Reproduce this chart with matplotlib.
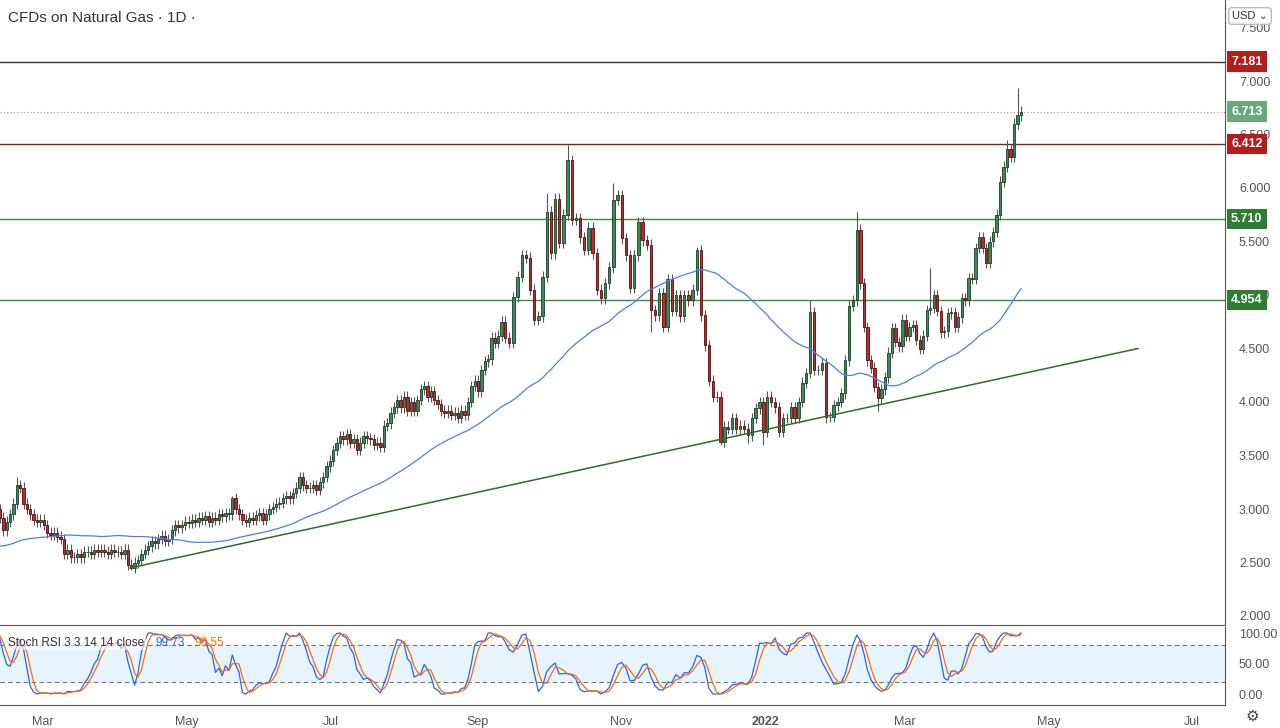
import numpy as np
import pandas as pd
import matplotlib
matplotlib.use("Agg")
from matplotlib import pyplot as plt
import matplotlib.dates as mdates

plt.rcParams['font.family'] = ['Liberation Sans', 'DejaVu Sans']

# closes before the visible window (only used for the moving average / stoch rsi)
pre_closes = [2.55, 2.60, 2.62, 2.58, 2.50, 2.45, 2.52, 2.60, 2.68, 2.70, 2.65, 2.58,
              2.62, 2.70, 2.75, 2.72, 2.55, 2.50, 2.45, 2.48, 2.55, 2.62, 2.70, 2.65,
              2.60, 2.55, 2.50, 2.58, 2.65, 2.78, 2.85, 2.90, 2.88, 2.95, 3.00]

closes = [2.92, 2.80, 2.88, 2.95, 3.05, 3.22, 3.20, 3.05, 3.00, 2.95,
          2.90, 2.88, 2.90, 2.85, 2.78, 2.76, 2.78, 2.74, 2.72, 2.58,
          2.62, 2.55, 2.55, 2.58, 2.55, 2.60, 2.60, 2.58, 2.62, 2.60,
          2.62, 2.60, 2.58, 2.62, 2.60, 2.60, 2.58, 2.62, 2.48, 2.45,
          2.50, 2.52, 2.58, 2.62, 2.65, 2.70, 2.68, 2.72, 2.75, 2.70,
          2.72, 2.80, 2.85, 2.83, 2.85, 2.88, 2.87, 2.90, 2.88, 2.92,
          2.90, 2.93, 2.88, 2.92, 2.90, 2.95, 2.93, 2.96, 2.95, 3.10,
          3.00, 2.95, 2.90, 2.88, 2.92, 2.90, 2.94, 2.96, 2.90, 2.95,
          3.00, 3.02, 3.05, 3.06, 3.10, 3.12, 3.10, 3.15, 3.20, 3.30,
          3.22, 3.20, 3.20, 3.22, 3.18, 3.25, 3.30, 3.40, 3.45, 3.55,
          3.62, 3.68, 3.65, 3.70, 3.62, 3.65, 3.55, 3.62, 3.68, 3.66,
          3.65, 3.60, 3.62, 3.58, 3.78, 3.80, 3.90, 3.95, 4.02, 3.95,
          4.05, 3.92, 4.00, 3.92, 4.02, 4.12, 4.15, 4.05, 4.10, 4.02,
          3.98, 3.92, 3.90, 3.92, 3.88, 3.90, 3.85, 3.92, 3.88, 4.00,
          4.15, 4.20, 4.10, 4.30, 4.38, 4.40, 4.60, 4.55, 4.62, 4.75,
          4.60, 4.55, 4.98, 5.17, 5.37, 5.35, 5.05, 4.77, 4.80, 5.17,
          5.78, 5.39, 5.90, 5.49, 5.75, 6.26, 5.70, 5.72, 5.54, 5.42,
          5.63, 5.39, 5.05, 4.97, 5.11, 5.26, 5.89, 5.93, 5.53, 5.37,
          5.07, 5.37, 5.68, 5.51, 5.47, 4.86, 4.81, 5.02, 4.70, 5.15,
          4.85, 5.00, 4.80, 5.00, 4.95, 5.05, 5.42, 4.81, 4.53, 4.20,
          4.05, 4.05, 3.63, 3.77, 3.75, 3.85, 3.75, 3.78, 3.75, 3.69,
          3.85, 3.94, 4.00, 3.72, 4.05, 4.00, 3.95, 3.72, 3.85, 3.85,
          3.95, 3.85, 4.00, 4.18, 4.27, 4.84, 4.30, 4.30, 4.36, 3.86,
          3.86, 3.97, 4.00, 4.08, 4.39, 4.90, 4.95, 5.61, 5.11, 4.70,
          4.39, 4.32, 4.14, 4.04, 4.12, 4.23, 4.46, 4.69, 4.56, 4.52,
          4.77, 4.62, 4.70, 4.72, 4.58, 4.50, 4.62, 4.86, 4.88, 5.00,
          4.85, 4.65, 4.66, 4.83, 4.84, 4.70, 4.79, 4.97, 4.95, 5.16,
          5.15, 5.44, 5.54, 5.44, 5.30, 5.50, 5.59, 5.75, 6.06, 6.20,
          6.36, 6.29, 6.60, 6.68, 6.713]

# notable wick extremes (candle index -> price), other candles get a short wick
spike_highs = {5: 3.30, 69: 3.12, 165: 6.40, 160: 5.95, 176: 6.05, 196: 5.45,
               225: 4.95, 237: 5.78, 258: 5.25, 283: 6.93, 280: 6.45}
spike_lows = {39: 2.43, 202: 3.60, 209: 3.62, 213: 3.60, 229: 3.80, 243: 3.92, 185: 4.65}
wick = 0.05

levels = [7.181, 6.412, 5.710, 4.954]
level_colors = ["#333333", "#8b1a1a", "#388e3c", "#388e3c"]
label_colors = ["#b71c1c", "#b71c1c", "#2e7d32", "#2e7d32"]
last_price = 6.713
trend_dates = ["2021-04-07", "2022-06-08"]
trend_prices = [2.45, 4.50]
ma_len = 50

# candle index -> pixel anchors on the time axis (layout only)
anchor_idx = [0, 150, 197, 237, 284]
anchor_px = [0, 505, 701, 857, 1021]

allc = pd.Series(pre_closes + closes)
ma = allc.rolling(ma_len, min_periods=1).mean().values[len(pre_closes):]
d = allc.diff()
up = d.clip(lower=0).ewm(alpha=1/14, adjust=False).mean()
dn = (-d.clip(upper=0)).ewm(alpha=1/14, adjust=False).mean()
rsi = 100 - 100 / (1 + up / dn)
st = (rsi - rsi.rolling(14).min()) / (rsi.rolling(14).max() - rsi.rolling(14).min()) * 100
k = st.rolling(3).mean()
dd = k.rolling(3).mean()
k = k.values[len(pre_closes):]
dd = dd.values[len(pre_closes):]

ppd = 2.36  # pixels per day
x0 = mdates.datestr2num("2021-03-01") - 43/ppd
x1 = x0 + 1225/ppd

n = len(closes)
x = x0 + np.interp(np.arange(n), anchor_idx, anchor_px) / ppd
c = np.array(closes)
o = np.array([pre_closes[-1]] + closes[:-1])
hi = np.maximum(o, c) + wick
lo = np.minimum(o, c) - wick
for i, v in spike_highs.items():
    hi[i] = v
for i, v in spike_lows.items():
    lo[i] = v

fig = plt.figure(figsize=(12.8, 7.28), dpi=100)
ax = fig.add_axes([0, 103/728, 1225/1280, 625/728])
ax2 = fig.add_axes([0, 23/728, 1225/1280, 78/728])

for a in (ax, ax2):
    a.set_xlim(x0, x1)
    for s in ["top", "left"]:
        a.spines[s].set_visible(False)
    a.spines["right"].set_color("#555555")
    a.spines["bottom"].set_color("#555555")
    a.yaxis.tick_right()
    a.tick_params(axis="y", length=0, labelsize=9, labelcolor="#555555", pad=10)

ax.set_ylim(2 - 9/107, 2 + 616/107)
yt = np.arange(2.0, 7.51, 0.5)
ax.set_yticks(yt)
ax.set_yticklabels([f"{v:.3f}" for v in yt])
ax.set_xticks([])

# candles
upc = c >= o
ax.vlines(x, lo, hi, color="#555555", linewidth=0.8, zorder=2)
ax.bar(x[upc], (c - o)[upc], bottom=o[upc], width=1.0, color="#3c8a5c",
       edgecolor="#1b3d28", linewidth=0.6, zorder=3)
ax.bar(x[~upc], (o - c)[~upc], bottom=c[~upc], width=1.0, color="#c62828",
       edgecolor="#4a1010", linewidth=0.6, zorder=3)
ax.plot(x, ma, color="#4d7cff", linewidth=0.9, zorder=4)

tx = [mdates.datestr2num(t) for t in trend_dates]
ax.plot(tx, trend_prices, color="#2e6b2e", linewidth=1.1, zorder=4)

for lv, lc, bc in zip(levels, level_colors, label_colors):
    ax.axhline(lv, color=lc, linewidth=1.0, zorder=1)
    ax.text(1.005, lv, f"{lv:.3f}", transform=ax.get_yaxis_transform(), va="center", ha="left",
            fontsize=9, fontweight="bold", color="white", clip_on=False, zorder=10,
            bbox=dict(boxstyle="square,pad=0.35", fc=bc, ec="none"))
ax.axhline(last_price, color="#999999", linewidth=0.8, linestyle=(0, (1, 2)), zorder=1)
ax.text(1.005, last_price, f"{last_price:.3f}", transform=ax.get_yaxis_transform(), va="center",
        ha="left", fontsize=9, fontweight="bold", color="white", clip_on=False, zorder=10,
        bbox=dict(boxstyle="square,pad=0.35", fc="#6aa87e", ec="none"))

fig.text(8/1280, 1 - 18/728, "CFDs on Natural Gas · 1D ·", fontsize=11, color="#333333", va="center")
fig.text(1250/1280, 1 - 16/728, "USD ⌄", fontsize=8, color="#333333", va="center", ha="center",
         bbox=dict(boxstyle="round,pad=0.3", fc="white", ec="#bbbbbb"))

# stoch rsi
ax2.set_ylim(-18, 100 + 6/0.61)
ax2.set_yticks([0, 50, 100])
ax2.set_yticklabels(["0.00", "50.00", "100.00"])
ax2.axhspan(20, 80, color="#e8f4fd", zorder=0)
ax2.axhline(80, color="#777777", linestyle=(0, (4, 3)), linewidth=0.8)
ax2.axhline(20, color="#777777", linestyle=(0, (4, 3)), linewidth=0.8)
ax2.plot(x, k, color="#2962ff", linewidth=0.9)
ax2.plot(x, dd, color="#ff6d00", linewidth=0.9)
lab = ax2.text(8/1225, 0.8, "Stoch RSI 3 3 14 14 close", transform=ax2.transAxes, fontsize=8.5,
               color="#333333", va="center", zorder=10,
               bbox=dict(boxstyle="square,pad=0.15", fc="white", ec="none", alpha=0.6))
ax2.annotate("99.73", xy=(1, 0.5), xycoords=lab, xytext=(8, 0), textcoords="offset points",
             fontsize=8.5, color="#2962ff", va="center", zorder=10)
ax2.annotate("96.55", xy=(1, 0.5), xycoords=lab, xytext=(36, 0), textcoords="offset points",
             fontsize=8.5, color="#ff6d00", va="center", zorder=10)

months = ["2021-03-01", "2021-05-01", "2021-07-01", "2021-09-01", "2021-11-01",
          "2022-01-01", "2022-03-01", "2022-05-01", "2022-07-01"]
mlabels = ["Mar", "May", "Jul", "Sep", "Nov", "2022", "Mar", "May", "Jul"]
ax2.set_xticks([mdates.datestr2num(m) for m in months])
ax2.set_xticklabels(mlabels)
ax2.tick_params(axis="x", length=0, labelsize=9, labelcolor="#555555", pad=8)
ax2.get_xticklabels()[5].set_fontweight("bold")
fig.text(1252/1280, 1 - 716/728, "⚙", fontsize=11, color="#444444", ha="center", va="center",
         family="DejaVu Sans")

fig.savefig("out.png", dpi=100)
